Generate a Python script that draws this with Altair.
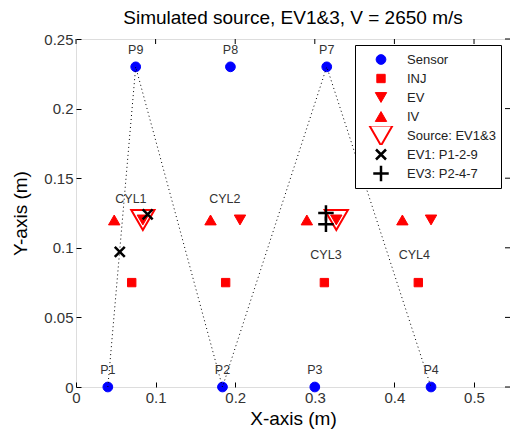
import altair as alt
import pandas as pd

# ---------------- data ----------------
sensor_names = ["P1", "P2", "P3", "P4", "P6", "P7", "P8", "P9"]
sensor_x = [0.040, 0.184, 0.300, 0.446, 0.438, 0.315, 0.194, 0.075]
sensor_y = [0.0, 0.0, 0.0, 0.0, 0.23, 0.23, 0.23, 0.23]

inj_x = [0.070, 0.188, 0.312, 0.430]
inj_y = [0.075, 0.075, 0.075, 0.075]
ev_x = [0.084, 0.206, 0.327, 0.446]
ev_y = [0.12, 0.12, 0.12, 0.12]
iv_x = [0.048, 0.169, 0.290, 0.410]
iv_y = [0.12, 0.12, 0.12, 0.12]
source_x = [0.084, 0.327]
source_y = [0.12, 0.12]
ev1_x = [0.055, 0.090]
ev1_y = [0.097, 0.124]
ev3_x = [0.314, 0.314]
ev3_y = [0.125, 0.117]

cyl_names = ["CYL1", "CYL2", "CYL3", "CYL4"]
cyl_x = [0.069, 0.187, 0.314, 0.425]
cyl_y = [0.135, 0.135, 0.095, 0.095]

path_order = ["P1", "P9", "P2", "P7", "P4"]

types = ["Sensor", "INJ", "EV", "IV", "Source: EV1&3", "EV1: P1-2-9", "EV3: P2-4-7"]

tick_vals_x = [0, 0.1, 0.2, 0.3, 0.4, 0.5]
tick_vals_y = [0, 0.05, 0.1, 0.15, 0.2, 0.25]

X_PATH = "M-1,-1L1,1M-1,1L1,-1"
PLUS_PATH = "M-1,0L1,0M0,-1L0,1"

# ---------------- tables ----------------
rows = []
for xs, ys, t in [(sensor_x, sensor_y, types[0]), (inj_x, inj_y, types[1]),
                  (ev_x, ev_y, types[2]), (iv_x, iv_y, types[3]),
                  (source_x, source_y, types[4]), (ev1_x, ev1_y, types[5]),
                  (ev3_x, ev3_y, types[6])]:
    for a, b in zip(xs, ys):
        rows.append({"x": a, "y": b, "type": t})
pts = pd.DataFrame(rows)

sens = pd.DataFrame({"name": sensor_names, "x": sensor_x, "y": sensor_y})
lookup = {n: (a, b) for n, a, b in zip(sensor_names, sensor_x, sensor_y)}
path_df = pd.DataFrame({"seq": list(range(len(path_order))),
                        "x": [lookup[n][0] for n in path_order],
                        "y": [lookup[n][1] for n in path_order]})
cyl = pd.DataFrame({"name": cyl_names, "x": cyl_x, "y": cyl_y})
xt = pd.DataFrame({"v": tick_vals_x})
yt = pd.DataFrame({"v": tick_vals_y})

W, H = 434, 348
TICK = 5
FONT = "Liberation Sans"
xdom = [0, 0.5452]
ydom = [0, 0.25]

xs_scale = alt.Scale(domain=xdom, nice=False, zero=False)
ys_scale = alt.Scale(domain=ydom, nice=False, zero=False)

bottom_axis = alt.Axis(orient="bottom", values=tick_vals_x, offset=-TICK, tickSize=TICK,
                       domain=False, grid=False, labelPadding=3, labelFontSize=15,
                       labelFont=FONT, labelColor="#333333", tickColor="#000000",
                       title="X-axis (m)", titleFont=FONT, titleFontSize=19,
                       titleFontWeight="normal", titleColor="#000000", titlePadding=4,
                       labelFlush=False, labelOverlap=False, format="~g")
left_axis = alt.Axis(orient="left", values=tick_vals_y, offset=-TICK, tickSize=TICK,
                     domain=False, grid=False, labelPadding=3, labelFontSize=15,
                     labelFont=FONT, labelColor="#333333", tickColor="#000000",
                     title="Y-axis (m)", titleFont=FONT, titleFontSize=19,
                     titleFontWeight="normal", titleColor="#000000", titlePadding=13,
                     labelFlush=False, labelOverlap=False, format="~g")

X = alt.X("x:Q", scale=xs_scale, axis=bottom_axis)
Y = alt.Y("y:Q", scale=ys_scale, axis=left_axis)

leg = alt.Legend(title=None, orient="none", legendX=279, legendY=6,
                 fillColor="white", strokeColor="black", padding=5,
                 labelFont=FONT, labelFontSize=13, labelColor="#222222",
                 symbolOffset=8, labelOffset=13, rowPadding=0, clipHeight=19,
                 zindex=1)

dom = types
points = alt.Chart(pts).mark_point(filled=True, opacity=1).encode(
    x=X, y=Y,
    shape=alt.Shape("type:N", scale=alt.Scale(domain=dom, range=[
        "circle", "square", "triangle-down", "triangle-up", "triangle-down",
        X_PATH, PLUS_PATH]), legend=leg),
    fill=alt.Fill("type:N", scale=alt.Scale(domain=dom, range=[
        "#0000ff", "#ff0000", "#ff0000", "#ff0000", "transparent",
        "transparent", "transparent"]), legend=leg),
    stroke=alt.Stroke("type:N", scale=alt.Scale(domain=dom, range=[
        "#0000ff", "#ff0000", "#ff0000", "#ff0000", "#ff0000",
        "#000000", "#000000"]), legend=leg),
    size=alt.Size("type:N", scale=alt.Scale(type="ordinal", domain=dom, range=[
        95, 70, 130, 130, 540, 100, 240]), legend=leg),
    strokeWidth=alt.StrokeWidth("type:N", scale=alt.Scale(type="ordinal", domain=dom, range=[
        1, 1, 1, 1, 2, 2.5, 2.5]), legend=leg),
)

line = alt.Chart(path_df).mark_line(color="black", strokeWidth=1,
                                    strokeDash=[1, 3]).encode(
    x=X, y=Y, order="seq:Q",
)

# inward tick marks on the top and right frame edges
top_ticks = alt.Chart(xt).mark_rule(color="black", strokeWidth=1).encode(
    x=alt.X("v:Q", scale=xs_scale, axis=bottom_axis),
    y=alt.value(0), y2=alt.value(TICK),
)
right_ticks = alt.Chart(yt).mark_rule(color="black", strokeWidth=1).encode(
    y=alt.Y("v:Q", scale=ys_scale, axis=left_axis),
    x=alt.value(W - TICK), x2=alt.value(W),
)

sens_labels = alt.Chart(sens).mark_text(font=FONT, fontSize=12.5, color="#333333",
                                        dy=-17).encode(x=X, y=Y, text="name:N")
cyl_labels = alt.Chart(cyl).mark_text(font=FONT, fontSize=12.5,
                                      color="#333333").encode(x=X, y=Y, text="name:N")

chart = alt.layer(points, line, top_ticks, right_ticks, sens_labels, cyl_labels).properties(
    width=W, height=H,
    autosize=alt.AutoSizeParams(type="none"),
    padding={"left": 76, "top": 39, "right": 0, "bottom": 43},
    title=alt.Title("Simulated source, EV1&3, V = 2650 m/s", font=FONT,
                    fontSize=19, fontWeight="normal", color="#000000",
                    anchor="middle", offset=4),
).configure_view(stroke="black", strokeWidth=1).configure(background="white")

chart.save("out.html", embed_options={"renderer": "svg", "actions": False})
